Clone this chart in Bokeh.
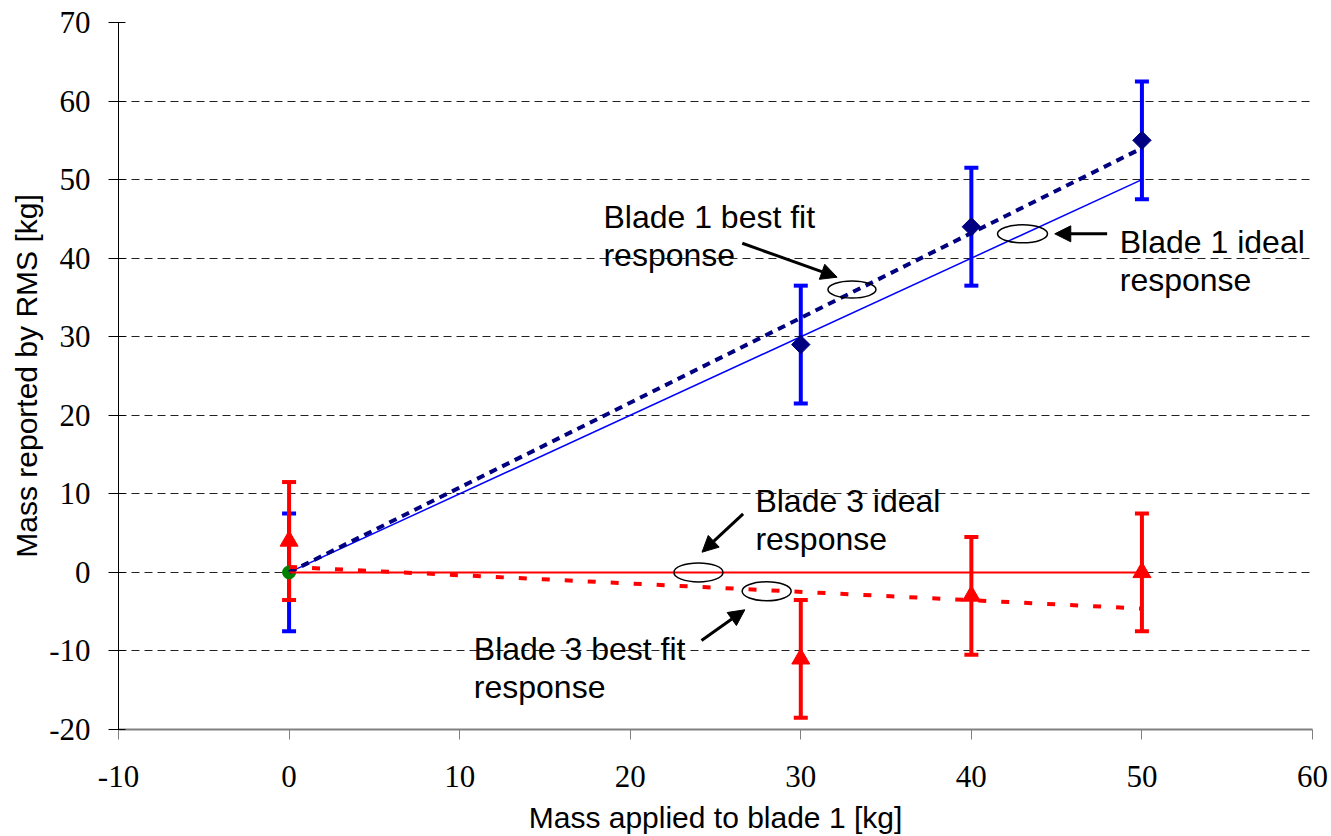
from bokeh.plotting import figure
from bokeh.models import Range1d, FixedTicker, Label, Arrow, NormalHead, PrintfTickFormatter
from bokeh.embed import file_html
from bokeh.resources import INLINE

# ---- data ----
mass_applied = [0, 30, 40, 50]
blade1_reported = [0, 29, 44, 55]
blade3_reported = [4, -11, -3, 0]
error_half = [7.5, 7.5, 7.5, 7.5]
line_x = [0, 50]
blade1_ideal = [0, 50]
blade1_fit = [0, 54]
blade3_ideal = [0, 0]
blade3_fit = [0.7, -4.6]
origin_x = [0]
origin_y = [0]
x_ticks = [-10, 0, 10, 20, 30, 40, 50, 60]
y_ticks = [-20, -10, 0, 10, 20, 30, 40, 50, 60, 70]

BLUE = "#0000FF"
NAVY = "#000080"
RED = "#FF0000"
GREEN = "#008000"

p = figure(width=1331, height=836, output_backend="svg", toolbar_location=None,
           x_range=Range1d(-10, 60), y_range=Range1d(-20, 70))
p.min_border_left = 118
p.min_border_right = 19
p.min_border_top = 22
p.min_border_bottom = 107
p.outline_line_color = None
p.background_fill_color = "white"
p.border_fill_color = "white"

p.xgrid.grid_line_color = None
p.ygrid.grid_line_color = "#222222"
p.ygrid.grid_line_dash = "8 5"
p.ygrid.grid_line_width = 1

p.xaxis.ticker = FixedTicker(ticks=x_ticks)
p.yaxis.ticker = FixedTicker(ticks=y_ticks)
for ax in (p.xaxis, p.yaxis):
    ax.formatter = PrintfTickFormatter(format="%d")
    ax.minor_tick_line_color = None
    ax.major_label_text_font = "Liberation Serif"
    ax.major_label_text_font_size = "31px"
    ax.major_label_text_color = "black"
    ax.axis_label_text_font = "Liberation Sans"
    ax.axis_label_text_font_size = "30px"
    ax.axis_label_text_font_style = "normal"
    ax.axis_label_text_color = "black"

p.xaxis.axis_label = "Mass applied to blade 1 [kg]"
p.yaxis.axis_label = "Mass reported by RMS [kg]"
p.xaxis.axis_line_color = "#808080"
p.xaxis.axis_line_width = 2
p.xaxis.major_tick_line_color = "#808080"
p.xaxis.major_tick_out = 10
p.xaxis.major_tick_in = 0
p.xaxis.major_label_standoff = 26
p.xaxis.axis_label_standoff = 11

p.yaxis.axis_line_color = "black"
p.yaxis.major_tick_line_color = "black"
p.yaxis.major_tick_out = 10
p.yaxis.major_tick_in = 7
p.yaxis.major_label_standoff = 18
p.yaxis.axis_label_standoff = 3

# ---- error bars ----
b1_lo = [v - e for v, e in zip(blade1_reported, error_half)]
b1_hi = [v + e for v, e in zip(blade1_reported, error_half)]
b3_lo = [v - e for v, e in zip(blade3_reported, error_half)]
b3_hi = [v + e for v, e in zip(blade3_reported, error_half)]

p.segment(x0=mass_applied, y0=b1_lo, x1=mass_applied, y1=b1_hi, line_color=BLUE, line_width=4)
p.scatter(x=mass_applied + mass_applied, y=b1_lo + b1_hi, marker="dash", size=14,
          line_color=BLUE, line_width=4)
p.segment(x0=mass_applied, y0=b3_lo, x1=mass_applied, y1=b3_hi, line_color=RED, line_width=4)
p.scatter(x=mass_applied + mass_applied, y=b3_lo + b3_hi, marker="dash", size=14,
          line_color=RED, line_width=4)

# origin marker
p.scatter(x=origin_x, y=origin_y, marker="circle", size=13, fill_color=GREEN, line_color=GREEN)

# ---- lines ----
p.line(line_x, blade1_ideal, line_color=BLUE, line_width=1.5)
p.line(line_x, blade1_fit, line_color=NAVY, line_width=4, line_dash="8 6")
p.line(line_x, blade3_ideal, line_color=RED, line_width=2)
p.line(line_x, blade3_fit, line_color=RED, line_width=4, line_dash="8 15")

# ---- markers ----
p.scatter(x=mass_applied[1:], y=blade1_reported[1:], marker="square", angle=0.785398,
          size=13, fill_color=NAVY, line_color=NAVY)
p.scatter(x=mass_applied, y=blade3_reported, marker="triangle", size=18,
          fill_color=RED, line_color=RED)

# ---- annotations ----
ell_x = [33.0, 43.0, 24.0, 28.0]
ell_y = [36.0, 43.1, 0.0, -2.4]
ell_w = [48, 50, 49, 49]
ell_h = [17, 18, 19, 19]
p.ellipse(x=ell_x, y=ell_y, width=ell_w, height=ell_h, width_units="screen",
          height_units="screen", fill_color=None, line_color="black", line_width=1.5)

arrows = [
    (26.57, 41.9, 32.13, 37.58),
    (47.96, 43.1, 44.89, 43.1),
    (26.62, 7.46, 24.21, 2.57),
    (24.18, -8.67, 26.72, -4.76),
]
for xs, ys, xe, ye in arrows:
    p.add_layout(Arrow(x_start=xs, y_start=ys, x_end=xe, y_end=ye, line_width=3,
                       line_color="black",
                       end=NormalHead(size=16, fill_color="black", line_color="black")))

texts = [
    ("Blade 1 best fit", 18.43, 45.2),
    ("response", 18.43, 40.35),
    ("Blade 1 ideal", 48.70, 42.05),
    ("response", 48.70, 37.2),
    ("Blade 3 ideal", 27.34, 9.1),
    ("response", 27.34, 4.2),
    ("Blade 3 best fit", 10.83, -9.7),
    ("response", 10.83, -14.6),
]
for t, x, y in texts:
    p.add_layout(Label(x=x, y=y, text=t, text_font="Liberation Sans", text_font_size="32px",
                       text_color="black", text_baseline="alphabetic", text_align="left"))

open("out.html", "w").write(file_html(p, INLINE))
